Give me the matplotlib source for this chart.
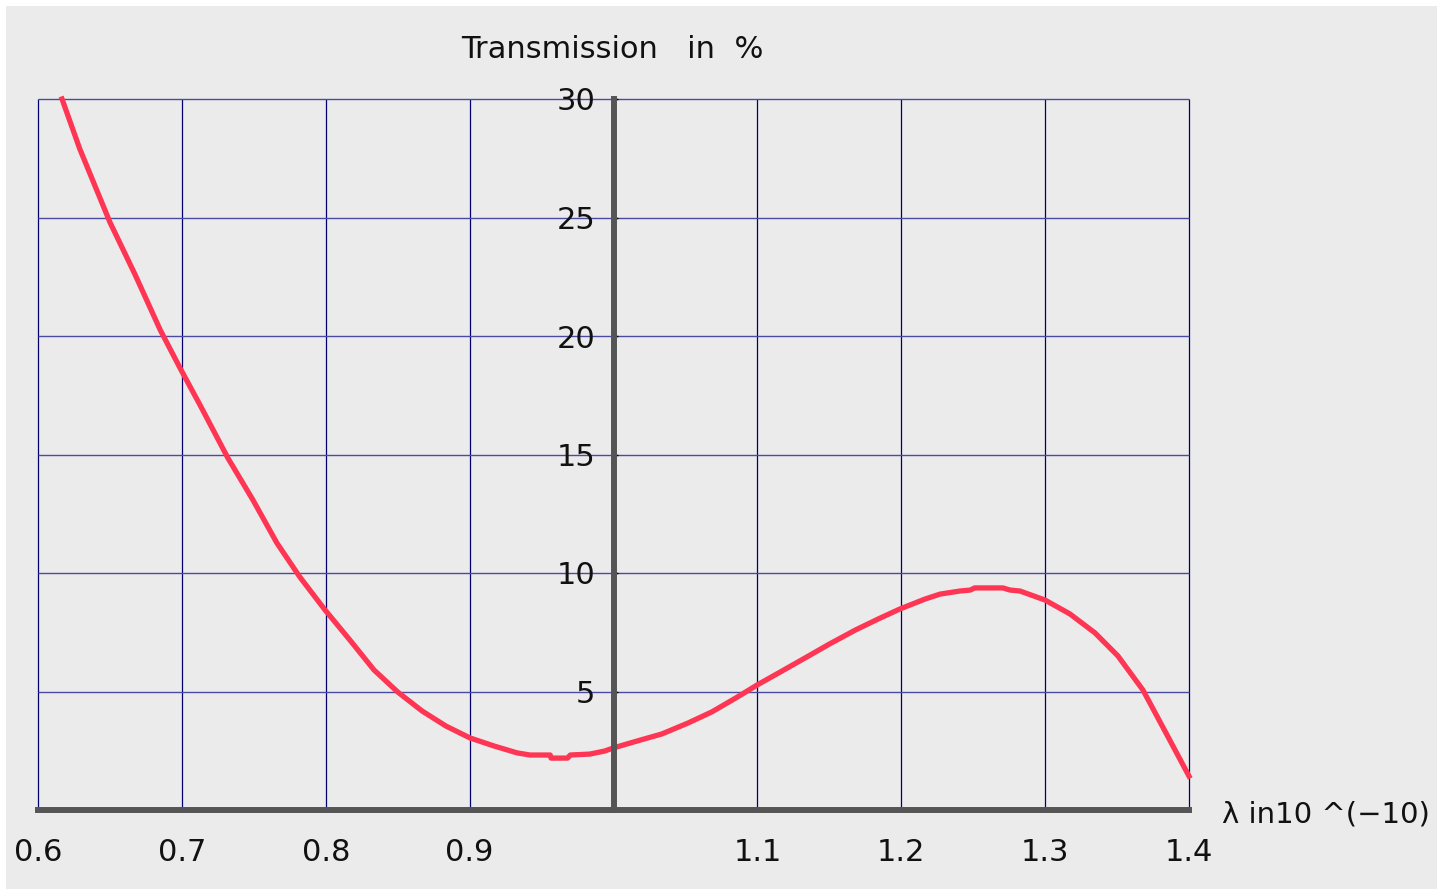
import numpy as np
import matplotlib
matplotlib.use("Agg")
import matplotlib.pyplot as plt
from matplotlib.patches import Rectangle

# curve (wavelength, transmission %)
wavelength = [0.6167, 0.629, 0.650, 0.6674, 0.685, 0.6994, 0.7126, 0.732, 0.7494,
              0.766, 0.782, 0.7995, 0.8168, 0.8335, 0.850, 0.8669, 0.8836, 0.9003,
              0.917, 0.933, 0.942, 0.956, 0.9566, 0.968, 0.970, 0.9836, 0.994, 1.0,
              1.0163, 1.0337, 1.0518, 1.0684, 1.0851, 1.0997, 1.117, 1.133, 1.150,
              1.168, 1.184, 1.199, 1.2165, 1.227, 1.2408, 1.248, 1.251, 1.2707,
              1.2756, 1.2825, 1.2999, 1.3173, 1.3347, 1.3506, 1.368, 1.384, 1.400]
transmission = [30.0, 27.9, 24.8, 22.6, 20.25, 18.57, 17.09, 14.85, 13.08,
                11.27, 9.83, 8.44, 7.17, 5.91, 4.98, 4.18, 3.54, 3.04,
                2.70, 2.41, 2.32, 2.32, 2.19, 2.19, 2.32, 2.36, 2.49, 2.62,
                2.91, 3.21, 3.67, 4.14, 4.73, 5.27, 5.86, 6.41, 7.00,
                7.59, 8.06, 8.48, 8.90, 9.11, 9.24, 9.28, 9.37, 9.37,
                9.28, 9.24, 8.86, 8.27, 7.47, 6.50, 5.06, 3.25, 1.43]

x_ticks = [0.6, 0.7, 0.8, 0.9, 1.0, 1.1, 1.2, 1.3, 1.4]
x_labels = ["0.6", "0.7", "0.8", "0.9", "", "1.1", "1.2", "1.3", "1.4"]
y_ticks = [5, 10, 15, 20, 25, 30]

W, H = 1450, 889
fig = plt.figure(figsize=(W / 100, H / 100), dpi=100, facecolor="white")
fig.patches.append(Rectangle((6 / W, 0), (1437 - 6) / W, 1 - 6 / H,
                             transform=fig.transFigure, facecolor="#ebebeb",
                             edgecolor="none", zorder=-5))

ax = fig.add_axes([38 / W, 1 - 810 / H, 1151 / W, (810 - 99) / H])
ax.set_facecolor("none")
ax.set_xlim(0.6, 1.4)
ax.set_ylim(0, 30)

# grid
ax.vlines(x_ticks, 0, 30, colors="#000070", lw=0.9, zorder=1, clip_on=False)
ax.hlines(y_ticks, 0.6, 1.4, colors="#4a4aa2", lw=1.0, zorder=1, clip_on=False)

ax.plot(wavelength, transmission, color="#fe3553", lw=3.8, zorder=2,
        clip_on=False, solid_joinstyle="round")

for s in ["top", "right"]:
    ax.spines[s].set_visible(False)
ax.spines["left"].set_position(("data", 1.0))
ax.spines["left"].set_color("#555555")
ax.spines["left"].set_linewidth(4.3)
ax.spines["left"].set_zorder(3)
ax.spines["bottom"].set_color("#555555")
ax.spines["bottom"].set_linewidth(4.3)
ax.spines["bottom"].set_zorder(3)

ax.set_xticks(x_ticks)
ax.set_xticklabels(x_labels)
ax.set_yticks(y_ticks)
ax.tick_params(axis="x", length=0, pad=20, labelsize=22, labelcolor="#111111")
ax.tick_params(axis="y", direction="in", length=3, width=1, color="black",
               pad=13, labelsize=22, labelcolor="#111111")

fig.text(461 / W, 1 - 49 / H, "Transmission   in  %", fontsize=22,
         color="#111111", ha="left", va="center")
fig.text(1222 / W, 1 - 815 / H, "\u03bb in10 ^(\u221210)", fontsize=21,
         color="#111111", ha="left", va="center")

fig.savefig("out.png", dpi=100, facecolor="white")
